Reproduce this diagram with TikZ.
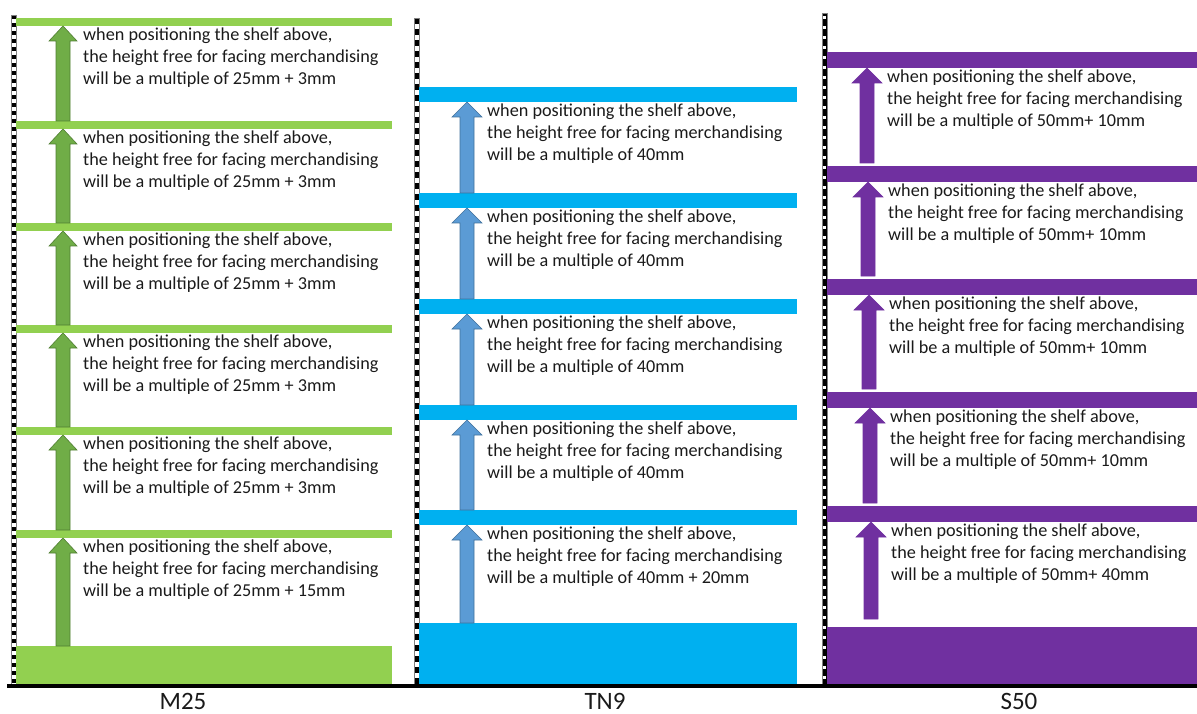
\documentclass[tikz,border=0pt]{standalone}
\usepackage{fontspec}
\setmainfont{Carlito}
\definecolor{gshelf}{HTML}{92D050}
\definecolor{garr}{HTML}{70AD47}
\definecolor{garrb}{HTML}{507E32}
\definecolor{bshelf}{HTML}{00B0F0}
\definecolor{barr}{HTML}{5B9BD5}
\definecolor{barrb}{HTML}{41719C}
\definecolor{pshelf}{HTML}{7030A0}
\definecolor{txtc}{HTML}{1A1A1A}
\begin{document}
\begin{tikzpicture}[x=1pt,y=-1pt,
  txt/.style={anchor=north west, align=left, inner sep=0pt, font=\fontsize{18.2}{22}\selectfont, text=txtc},
  lbl/.style={anchor=base, inner sep=0pt, font=\fontsize{25}{28}\selectfont, text=txtc},
  upframe/.style={draw=gray, line width=0.8pt},
  garrow/.style={fill=garr, draw=garrb, line width=0.6pt},
  barrow/.style={fill=barr, draw=barrb, line width=0.6pt},
  parrow/.style={fill=pshelf, draw=pshelf, line width=0.6pt}]
\useasboundingbox (0,0) rectangle (1197,714);

% ---------- uprights ----------
\fill[white] (11,15) rectangle (16,685);
\draw[black, line width=4pt, dash pattern=on 4pt off 4pt] (13.5,15) -- (13.5,685);
\draw[upframe] (11,15) rectangle (16,685);

\fill[white] (414,18) rectangle (419,685);
\draw[black, line width=4pt, dash pattern=on 6pt off 5pt] (416.5,18) -- (416.5,685);
\draw[upframe] (414,18) rectangle (419,685);

\fill[black] (822,13) rectangle (827,685);
\draw[white, line width=3pt, dash pattern=on 3pt off 7pt] (824.5,16) -- (824.5,685);
\draw[upframe] (822,13) rectangle (827,685);

% ---------- M25 ----------
\foreach \y in {18,121,223,325,427,530} {\fill[gshelf] (16,\y) rectangle (392,\y+8);}
\fill[gshelf] (16,646) rectangle (392,684);
\foreach \t/\b/\s [count=\i] in {26/121/25mm + 3mm,129/223/25mm + 3mm,231/325/25mm + 3mm,333/427/25mm + 3mm,435/530/25mm + 3mm,538/646/25mm + 15mm} {
  \draw[garrow] (56,\b) -- (56,\t+15) -- (49,\t+15) -- (63,\t) -- (77,\t+15) -- (70,\t+15) -- (70,\b) -- cycle;
  \node[txt] (m\i) at (83,\t+2) {when positioning the shelf above,\\the height free for facing merchandising\\will be a multiple of \s};
}

% ---------- TN9 ----------
\foreach \y in {87,193,299,405,510} {\fill[bshelf] (419,\y) rectangle (797,\y+15);}
\fill[bshelf] (419,623) rectangle (797,684);
\foreach \t/\b/\s [count=\i] in {102/193/40mm,208/299/40mm,314/405/40mm,420/510/40mm,525/623/40mm + 20mm} {
  \draw[barrow] (460,\b) -- (460,\t+15) -- (452,\t+15) -- (467,\t) -- (482,\t+15) -- (474,\t+15) -- (474,\b) -- cycle;
  \node[txt] (t\i) at (487,\t+2) {when positioning the shelf above,\\the height free for facing merchandising\\will be a multiple of \s};
}

% ---------- S50 ----------
\foreach \y in {52,166,279,392,506} {\fill[pshelf] (827,\y) rectangle (1197,\y+16);}
\fill[pshelf] (827,627) rectangle (1197,684);
\foreach \t/\b/\s/\d [count=\i] in {68/163/50mm+ 10mm/0,182/276/50mm+ 10mm/1,295/389/50mm+ 10mm/2,408/503/50mm+ 10mm/3,522/619/50mm+ 40mm/4} {
  \draw[parrow] (860+\d,\b) -- (860+\d,\t+15) -- (852+\d,\t+15) -- (867+\d,\t) -- (882+\d,\t+15) -- (874+\d,\t+15) -- (874+\d,\b) -- cycle;
  \node[txt] (s\i) at (887+\d,\t+2) {when positioning the shelf above,\\the height free for facing merchandising\\will be a multiple of \s};
}

% ---------- ground ----------
\coordinate (g0) at (7,686);
\coordinate (g1) at (1197,686);
\draw[black, line width=3.5pt] (g0) -- (g1);

% ---------- labels ----------
\node[lbl] (lm) at (183,709) {M25};
\node[lbl] (lt) at (605,709) {TN9};
\node[lbl] (ls) at (1019,709) {S50};
\end{tikzpicture}
\end{document}
